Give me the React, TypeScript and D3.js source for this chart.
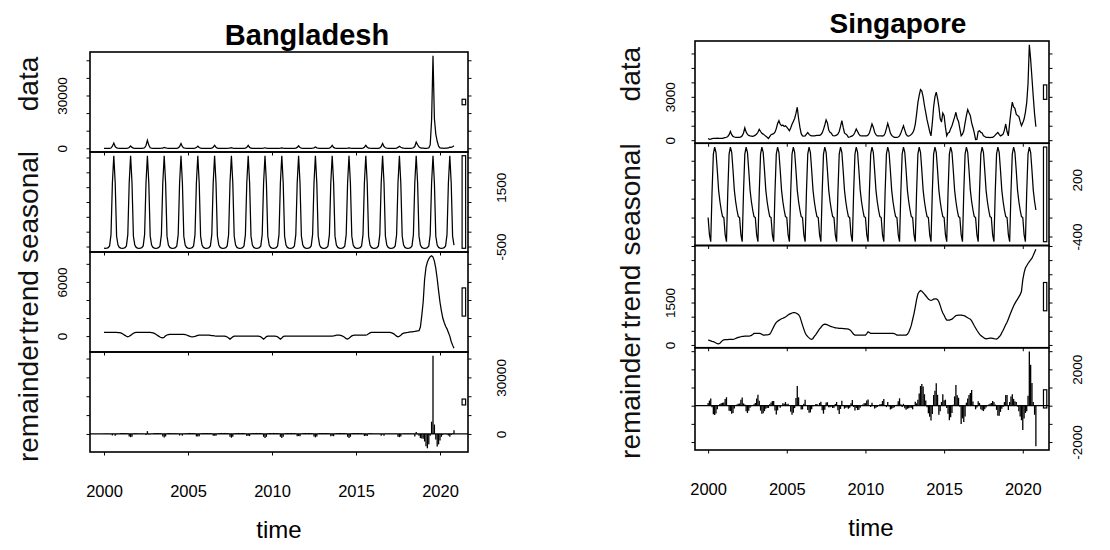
import { useEffect } from 'react'
import * as d3 from 'd3'

// monthly series, Jan 2000 .. Nov 2020
const startYear = 2000
const yearTicks = [2000, 2005, 2010, 2015, 2020]
const panelNames = ['data', 'seasonal', 'trend', 'remainder']

const bdData = [
  0, 0, 0, 5, 20, 150, 1200, 3000, 1000, 150, 50, 10,
  5, 0, 0, 0, 10, 80, 450, 1300, 500, 70, 20, 5,
  0, 0, 0, 5, 30, 300, 1600, 4500, 1800, 300, 50, 10,
  0, 0, 0, 0, 5, 30, 150, 500, 200, 40, 10, 0,
  0, 0, 0, 5, 20, 200, 1000, 2700, 900, 150, 30, 5,
  0, 0, 0, 0, 10, 80, 400, 1200, 450, 60, 10, 0,
  0, 0, 0, 0, 15, 100, 600, 1700, 600, 80, 10, 0,
  0, 0, 0, 0, 5, 30, 120, 350, 120, 20, 5, 0,
  0, 0, 0, 0, 10, 100, 550, 1700, 500, 60, 10, 0,
  0, 0, 0, 0, 5, 20, 100, 300, 120, 20, 5, 0,
  0, 0, 0, 0, 5, 20, 100, 280, 100, 20, 5, 0,
  0, 0, 0, 0, 10, 80, 500, 1400, 400, 60, 10, 0,
  0, 0, 0, 0, 5, 40, 250, 700, 250, 40, 10, 0,
  0, 0, 0, 0, 10, 100, 550, 1700, 500, 70, 10, 0,
  0, 0, 0, 0, 5, 20, 100, 250, 100, 20, 5, 0,
  0, 0, 0, 0, 10, 100, 600, 1700, 600, 150, 30, 5,
  0, 0, 0, 0, 20, 250, 1000, 2700, 1000, 300, 60, 10,
  5, 0, 0, 5, 20, 150, 500, 1200, 600, 200, 50, 10,
  10, 5, 5, 20, 50, 300, 1000, 3500, 2000, 800, 200, 50,
  30, 10, 20, 50, 180, 1900, 16000, 52600, 16900, 8100, 4000, 1250,
  200, 50, 30, 20, 30, 50, 200, 700, 500, 900, 1500,
]

const bdSeasonal = [
  -555, -560, -555, -540, -480, -100, 1650, 2560, 1650, -150, -450, -530,
  -555, -560, -555, -540, -480, -100, 1650, 2560, 1650, -150, -450, -530,
  -555, -560, -555, -540, -480, -100, 1650, 2560, 1650, -150, -450, -530,
  -555, -560, -555, -540, -480, -100, 1650, 2560, 1650, -150, -450, -530,
  -555, -560, -555, -540, -480, -100, 1650, 2560, 1650, -150, -450, -530,
  -555, -560, -555, -540, -480, -100, 1650, 2560, 1650, -150, -450, -530,
  -555, -560, -555, -540, -480, -100, 1650, 2560, 1650, -150, -450, -530,
  -555, -560, -555, -540, -480, -100, 1650, 2560, 1650, -150, -450, -530,
  -555, -560, -555, -540, -480, -100, 1650, 2560, 1650, -150, -450, -530,
  -555, -560, -555, -540, -480, -100, 1650, 2560, 1650, -150, -450, -530,
  -555, -560, -555, -540, -480, -100, 1650, 2560, 1650, -150, -450, -530,
  -555, -560, -555, -540, -480, -100, 1650, 2560, 1650, -150, -450, -530,
  -555, -560, -555, -540, -480, -100, 1650, 2560, 1650, -150, -450, -530,
  -555, -560, -555, -540, -480, -100, 1650, 2560, 1650, -150, -450, -530,
  -555, -560, -555, -540, -480, -100, 1650, 2560, 1650, -150, -450, -530,
  -555, -560, -555, -540, -480, -100, 1650, 2560, 1650, -150, -450, -530,
  -555, -560, -555, -540, -480, -100, 1650, 2560, 1650, -150, -450, -530,
  -555, -560, -555, -540, -480, -100, 1650, 2560, 1650, -150, -450, -530,
  -555, -560, -555, -540, -480, -100, 1650, 2560, 1650, -150, -450, -530,
  -555, -560, -555, -540, -480, -100, 1650, 2560, 1650, -150, -450, -530,
  -555, -560, -555, -540, -480, -100, 1650, 2560, 1650, -150, -450,
]

const bdTrend = [
  420, 420, 420, 410, 410, 400, 400, 400, 400, 400, 390, 380,
  350, 280, 180, 80, -20, -80, -20, 80, 200, 320, 390, 400,
  410, 410, 410, 410, 410, 400, 400, 400, 400, 400, 390, 360,
  300, 200, 100, 0, -100, -180, -200, -120, 30, 120, 170, 190,
  190, 190, 190, 190, 190, 190, 190, 190, 190, 180, 160, 120,
  60, 0, -50, -80, -60, -20, 30, 80, 110, 110, 110, 110,
  110, 110, 110, 100, 80, 60, 40, 20, 10, 0, 0, 0,
  0, 0, 0, -30, -100, -200, -330, -200, -80, 0, 0, 0,
  0, 0, 0, 0, 0, 0, 0, 0, 0, 0, 0, 0,
  0, 0, 0, -20, -80, -200, -330, -200, -60, 0, 0, 0,
  0, 0, 0, -20, -80, -200, -330, -200, -60, 0, 0, 0,
  0, 0, 0, 0, 0, 0, 0, 0, 0, 0, 0, 0,
  0, 0, 0, 0, 0, 0, 0, 0, 0, 0, 0, 0,
  0, 0, 0, 0, 0, 0, 0, 0, 20, 60, 100, 110,
  110, 80, 30, -50, -150, -280, -330, -250, -100, 20, 80, 110,
  110, 110, 110, 110, 110, 110, 110, 120, 150, 250, 350, 400,
  400, 400, 400, 400, 400, 400, 400, 400, 400, 400, 400, 400,
  400, 380, 330, 250, 120, 0, -80, -20, 100, 250, 320, 350,
  380, 400, 430, 460, 480, 500, 520, 550, 580, 600, 1000, 2300,
  3800, 6300, 7600, 8200, 8550, 8800, 8900, 8750, 8300, 7500, 6350, 5000,
  3750, 2800, 2000, 1500, 1100, 800, 400, 0, -600, -1000, -1350,
]

const bdRemainder = [
  150, 150, 150, 150, 100, -100, -800, 100, -1000, -200, 100, 150,
  450, 500, 480, 450, 400, 200, -1400, -1700, -1500, 100, 350, 400,
  150, 150, 150, 150, 100, 0, -600, 1500, -300, -100, 100, 150,
  500, 500, 500, 480, 450, 250, -1300, -1900, -1300, 250, 450, 500,
  350, 350, 350, 350, 300, 100, -800, -100, -900, 100, 300, 350,
  550, 550, 550, 530, 450, 250, -1300, -1400, -1250, 200, 400, 500,
  500, 500, 500, 480, 450, 250, -1000, -900, -1000, 250, 420, 500,
  550, 550, 550, 530, 470, 300, -1500, -2000, -1500, 250, 450, 520,
  550, 550, 550, 530, 460, 200, -1100, -900, -1150, 200, 420, 520,
  550, 550, 550, 530, 470, 300, -1500, -2200, -1500, 250, 450, 520,
  550, 550, 550, 530, 470, 300, -1500, -2200, -1500, 250, 450, 520,
  540, 540, 540, 520, 460, 250, -1150, -1100, -1250, 200, 420, 520,
  540, 540, 540, 520, 460, 250, -1400, -1800, -1400, 250, 440, 520,
  520, 520, 520, 500, 450, 250, -1150, -900, -1200, 200, 420, 510,
  540, 540, 540, 520, 460, 300, -1500, -2200, -1500, 250, 450, 520,
  450, 450, 450, 430, 400, 250, -1100, -950, -1100, 250, 350, 400,
  150, 150, 150, 150, 120, 150, -1000, -200, -1000, 100, 100, 150,
  150, 150, 150, 150, 120, 100, -1500, -1700, -1400, 0, 150, 200,
  200, 200, 200, 200, 150, 200, -1300, 1000, -200, -1000, -2200, -2400,
  -2500, -4000, -6500, -7600, -5500, -1000, 6500, 41500, 5000, -3000, -6700, -5500,
  -3500, -1500, -500, 0, 200, -300, -800, -1500, -600, 300, 2000,
]

const bdTickStep = [10000, 500, 2000, 10000]
const bdTickLabels = [[0, 30000], [-500, 1500], [0, 6000], [0, 30000]]

const sgData = [
  120, 60, 80, 110, 120, 130, 130, 140, 130, 120, 120, 130,
  160, 170, 200, 260, 380, 600, 380, 260, 220, 200, 200, 190,
  200, 230, 300, 500, 850, 560, 400, 330, 300, 280, 260, 300,
  350, 420, 550, 750, 600, 480, 420, 350, 280, 200, 120, 250,
  380, 420, 450, 550, 800, 1150, 1350, 1100, 1000, 1050, 950, 1000,
  900, 780, 650, 850, 1100, 1300, 1500, 1850, 2280, 1500, 900, 450,
  300, 280, 300, 420, 530, 400, 330, 300, 290, 300, 320, 330,
  330, 340, 380, 500, 750, 1050, 1400, 1200, 700, 550, 480, 320,
  300, 320, 350, 420, 600, 950, 1350, 900, 500, 420, 350, 200,
  220, 260, 300, 380, 550, 770, 600, 420, 320, 300, 290, 300,
  290, 300, 350, 500, 800, 1120, 900, 550, 380, 300, 290, 300,
  300, 290, 320, 480, 800, 1160, 850, 500, 330, 250, 200, 190,
  200, 220, 300, 500, 750, 1000, 700, 420, 300, 280, 320, 400,
  500, 700, 1100, 1800, 2600, 3100, 3500, 3400, 3000, 2400, 1900, 1400,
  1000, 600, 300, 1200, 2300, 3000, 3330, 2900, 2300, 1500, 1250, 1880,
  1700, 900, 300, 500, 550, 800, 1000, 1300, 1600, 1930, 1500, 1300,
  800, 300, 420, 650, 1200, 1700, 2120, 1900, 1700, 1200, 880, 500,
  50, 60, 600, 650, 535, 500, 300, 250, 190, 190, 190, 180,
  190, 200, 250, 350, 450, 535, 400, 300, 350, 420, 700, 1120,
  600, 300, 1200, 2000, 2630, 2300, 2200, 1800, 1700, 1650, 1300, 1000,
  1200, 1465, 1930, 2600, 3900, 6600, 5600, 4300, 3000, 1800, 930,
]

const sgSeasonal = [
  -200, -380, -455, 70, 470, 545, 490, 300, 90, -30, -120, -190,
  -200, -380, -455, 70, 470, 545, 490, 300, 90, -30, -120, -190,
  -200, -380, -455, 70, 470, 545, 490, 300, 90, -30, -120, -190,
  -200, -380, -455, 70, 470, 545, 490, 300, 90, -30, -120, -190,
  -200, -380, -455, 70, 470, 545, 490, 300, 90, -30, -120, -190,
  -200, -380, -455, 70, 470, 545, 490, 300, 90, -30, -120, -190,
  -200, -380, -455, 70, 470, 545, 490, 300, 90, -30, -120, -190,
  -200, -380, -455, 70, 470, 545, 490, 300, 90, -30, -120, -190,
  -200, -380, -455, 70, 470, 545, 490, 300, 90, -30, -120, -190,
  -200, -380, -455, 70, 470, 545, 490, 300, 90, -30, -120, -190,
  -200, -380, -455, 70, 470, 545, 490, 300, 90, -30, -120, -190,
  -200, -380, -455, 70, 470, 545, 490, 300, 90, -30, -120, -190,
  -200, -380, -455, 70, 470, 545, 490, 300, 90, -30, -120, -190,
  -200, -380, -455, 70, 470, 545, 490, 300, 90, -30, -120, -190,
  -200, -380, -455, 70, 470, 545, 490, 300, 90, -30, -120, -190,
  -200, -380, -455, 70, 470, 545, 490, 300, 90, -30, -120, -190,
  -200, -380, -455, 70, 470, 545, 490, 300, 90, -30, -120, -190,
  -200, -380, -455, 70, 470, 545, 490, 300, 90, -30, -120, -190,
  -200, -380, -455, 70, 470, 545, 490, 300, 90, -30, -120, -190,
  -200, -380, -455, 70, 470, 545, 490, 300, 90, -30, -120, -190,
  -200, -380, -455, 70, 470, 545, 490, 300, 90, -30, -120,
]

const sgTrend = [
  175, 160, 145, 130, 117, 95, 70, 45, 35, 60, 110, 160,
  180, 185, 190, 190, 195, 200, 200, 200, 210, 230, 250, 270,
  280, 290, 300, 305, 310, 315, 315, 315, 320, 340, 370, 408,
  408, 408, 408, 408, 400, 380, 350, 350, 355, 360, 365, 380,
  450, 548, 640, 730, 800, 840, 870, 900, 925, 945, 968, 990,
  1020, 1060, 1090, 1110, 1130, 1140, 1143, 1130, 1100, 1070, 1000, 850,
  700, 560, 430, 350, 292, 250, 210, 198, 230, 300, 360, 430,
  500, 570, 618, 680, 720, 735, 730, 710, 690, 665, 650, 635,
  620, 607, 600, 595, 590, 585, 583, 580, 575, 570, 565, 560,
  540, 500, 440, 380, 350, 350, 350, 350, 350, 350, 350, 350,
  350, 400, 467, 440, 408, 408, 408, 408, 408, 408, 408, 408,
  408, 408, 408, 408, 408, 408, 408, 408, 408, 408, 400, 380,
  350, 350, 350, 350, 350, 350, 350, 350, 380, 450, 560, 700,
  900, 1100, 1340, 1600, 1800, 1880, 1925, 1900, 1850, 1800, 1740, 1680,
  1620, 1590, 1575, 1590, 1620, 1633, 1633, 1600, 1530, 1400, 1250, 1130,
  1050, 950, 880, 875, 880, 895, 910, 950, 1000, 1040, 1050, 1055,
  1055, 1055, 1050, 1040, 1020, 990, 960, 933, 910, 850, 770, 680,
  600, 520, 450, 380, 330, 295, 260, 230, 215, 220, 235, 245,
  240, 230, 220, 212, 210, 240, 290, 340, 430, 520, 620, 720,
  800, 920, 1040, 1160, 1270, 1380, 1470, 1550, 1620, 1700, 1780, 1900,
  2300, 2550, 2720, 2800, 2880, 2950, 3010, 3070, 3170, 3280, 3383,
]

const sgRemainder = [
  150, 280, 390, -90, -470, -510, -430, -200, 0, 90, 130, 160,
  180, 365, 465, 0, -285, -300, -450, -400, -150, 0, 70, 110,
  120, 320, 455, 125, 70, -300, -405, -285, -110, -30, 10, 80,
  142, 392, 597, 272, -270, -445, -420, -300, -165, -130, -125, 73,
  180, 252, 255, -260, -487, -255, -30, -110, -20, 130, 102, 200,
  80, 100, 15, -330, -500, -385, -133, 420, 1090, 460, 20, -210,
  -200, 100, 325, 0, -232, -395, -370, -198, -30, 30, 80, 90,
  30, 150, 217, -250, -440, -230, 180, 190, -80, -85, -50, -125,
  -120, 93, 205, -245, -460, -180, 277, 20, -165, -120, -95, -170,
  -120, 140, 315, -70, -270, -125, -240, -230, -120, -20, 60, 140,
  140, 280, 338, -10, -78, 167, 2, -158, -118, -78, 2, 82,
  92, 262, 367, 2, -78, 207, -48, -208, -168, -128, -80, 0,
  50, 250, 405, 80, -70, 105, -140, -230, -170, -140, -120, -110,
  -200, -20, 215, 130, 330, 675, 1085, 1200, 1060, 630, 280, -90,
  -420, -610, -820, -460, 590, 820, 1233, 600, -500, -300, 200, 625,
  300, 330, -125, -445, -800, -640, -400, 50, 510, 1140, 570, 435,
  -55, -1010, -700, -900, -600, 165, 400, 590, 700, 865, 230, 10,
  -200, -100, 250, 150, -200, -250, -300, -200, -100, 0, 60, 100,
  150, 258, 200, 68, -230, -550, -550, -340, -170, -70, 200, 590,
  590, -240, 200, 500, 625, 375, 240, 200, -50, -300, -600, -800,
  -1340, -700, -400, -300, 550, 2980, 2250, 1250, 200, -500, -2230,
]

const sgTickStep = [1000, 200, 500, 1000]
const sgTickLabels = [[0, 3000], [-400, 200], [0, 1500], [-2000, 2000]]

const font = "'Liberation Sans', Arial, Helvetica, sans-serif"

type Config = {
  left: number
  right: number
  top: number
  bottom: number
  title: string
  titleX: number
  titleY: number
  titleSize: number
  leftLab: number
  rightLab: number
  ylabX: number
  timeX: number
}

// vertical shift of the big panel names, as placed in the picture
const nameShift = [-18, 5, 0, -3]

function drawStl(id: string, series: number[][], steps: number[], shown: number[][], cfg: Config) {
  const g = d3.select(`#${id}`)
  g.selectAll('*').remove()

  const n = series[0].length
  const time = d3.range(n).map(i => startYear + i / 12)
  const [t0, t1] = d3.extent(time) as [number, number]
  const tPad = (t1 - t0) * 0.04
  const xScale = d3.scaleLinear().domain([t0 - tPad, t1 + tPad]).range([cfg.left, cfg.right])

  const panelH = (cfg.bottom - cfg.top) / series.length
  const mx = d3.min(series, s => (d3.max(s) as number) - (d3.min(s) as number)) as number
  const barW = (cfg.right - cfg.left) / 64

  series.forEach((values, k) => {
    const top = cfg.top + k * panelH
    const bottom = top + panelH
    const [lo, hi] = d3.extent(values) as [number, number]
    const pad = (hi - lo) * 0.04
    const yScale = d3.scaleLinear().domain([lo - pad, hi + pad]).range([bottom, top])
    const p = g.append('g')
    const last = k === series.length - 1

    if (!last) {
      const line = d3.line<number>()
        .x((d, i) => xScale(time[i]))
        .y(d => yScale(d))
      p.append('path')
        .datum(values)
        .attr('d', line)
        .attr('fill', 'none')
        .attr('stroke', '#000')
        .attr('stroke-width', 1.25)
    } else {
      p.append('line')
        .attr('x1', cfg.left).attr('x2', cfg.right)
        .attr('y1', yScale(0)).attr('y2', yScale(0))
        .attr('stroke', '#000').attr('stroke-width', 1.3)
      p.selectAll('line.h')
        .data(values)
        .join('line')
        .attr('class', 'h')
        .attr('x1', (d, i) => xScale(time[i]))
        .attr('x2', (d, i) => xScale(time[i]))
        .attr('y1', yScale(0))
        .attr('y2', d => yScale(d))
        .attr('stroke', '#000')
        .attr('stroke-width', 1.3)
    }

    p.append('rect')
      .attr('x', cfg.left).attr('y', top)
      .attr('width', cfg.right - cfg.left).attr('height', panelH)
      .attr('fill', 'none').attr('stroke', '#000').attr('stroke-width', 1.6)

    // range bar
    const mid = (lo + hi) / 2
    p.append('rect')
      .attr('x', cfg.right - barW).attr('width', barW * 0.6)
      .attr('y', yScale(mid + mx / 2))
      .attr('height', yScale(mid - mx / 2) - yScale(mid + mx / 2))
      .attr('fill', 'none').attr('stroke', '#000').attr('stroke-width', 1.2)

    const step = steps[k]
    const ticks = d3.range(Math.ceil((lo - pad) / step) * step, hi + pad, step)
    const labelRight = k % 2 === 1
    const fmt = (on: boolean) => (d: d3.NumberValue) => (on && shown[k].includes(+d) ? String(+d) : '')

    const styleAxis = (a: any) => {
      a.select('.domain').remove()
      a.attr('font-size', 13.5).attr('font-family', font).attr('color', '#000')
      a.selectAll('line').attr('stroke-width', 1)
    }

    const yl = p.append('g')
      .attr('transform', `translate(${cfg.left},0)`)
      .call(d3.axisLeft(yScale).tickValues(ticks).tickSize(3.5).tickFormat(fmt(!labelRight)))
    styleAxis(yl)
    yl.selectAll('text')
      .attr('transform', 'rotate(-90)')
      .attr('x', 0).attr('y', -cfg.leftLab).attr('dy', null)
      .attr('text-anchor', 'middle')

    const yr = p.append('g')
      .attr('transform', `translate(${cfg.right},0)`)
      .call(d3.axisRight(yScale).tickValues(ticks).tickSize(3.5).tickFormat(fmt(labelRight)))
    styleAxis(yr)
    yr.selectAll('text')
      .attr('transform', 'rotate(-90)')
      .attr('x', 0).attr('y', cfg.rightLab).attr('dy', null)
      .attr('text-anchor', 'middle')

    const xa = p.append('g')
      .attr('transform', `translate(0,${bottom})`)
      .call(d3.axisBottom(xScale).tickValues(yearTicks).tickSize(3.5)
        .tickFormat(d => (last ? String(+d) : '')))
    styleAxis(xa)
    xa.attr('font-size', 16.5)
    xa.selectAll('text').attr('y', 45).attr('dy', null)

    p.append('text')
      .attr('transform', `translate(${cfg.ylabX},${(top + bottom) / 2 + nameShift[k]}) rotate(-90)`)
      .attr('text-anchor', 'middle')
      .attr('font-family', font)
      .attr('font-size', 28)
      .attr('fill', '#111')
      .text(panelNames[k])
  })

  g.append('text')
    .attr('x', cfg.titleX).attr('y', cfg.titleY)
    .attr('text-anchor', 'middle')
    .attr('font-family', font)
    .attr('font-weight', 'bold')
    .attr('font-size', cfg.titleSize)
    .text(cfg.title)

  g.append('text')
    .attr('x', cfg.timeX).attr('y', cfg.bottom + 86)
    .attr('text-anchor', 'middle')
    .attr('font-family', font)
    .attr('font-size', 24)
    .text('time')
}

function App() {
  useEffect(() => {
    drawStl('stl-bd', [bdData, bdSeasonal, bdTrend, bdRemainder], bdTickStep, bdTickLabels, {
      left: 90, right: 468, top: 52, bottom: 452,
      title: 'Bangladesh', titleX: 307, titleY: 45, titleSize: 29,
      leftLab: 23, rightLab: 38, ylabX: 38, timeX: 279,
    })
    drawStl('stl-sg', [sgData, sgSeasonal, sgTrend, sgRemainder], sgTickStep, sgTickLabels, {
      left: 695, right: 1049, top: 41, bottom: 450,
      title: 'Singapore', titleX: 898, titleY: 33, titleSize: 28,
      leftLab: 20, rightLab: 33, ylabX: 640, timeX: 871,
    })
  }, [])

  return (
    <svg
      width={1110}
      height={550}
      style={{ position: 'absolute', left: 0, top: 0, background: '#fff' }}
    >
      <g id="stl-bd"></g>
      <g id="stl-sg"></g>
    </svg>
  )
}

export default App
